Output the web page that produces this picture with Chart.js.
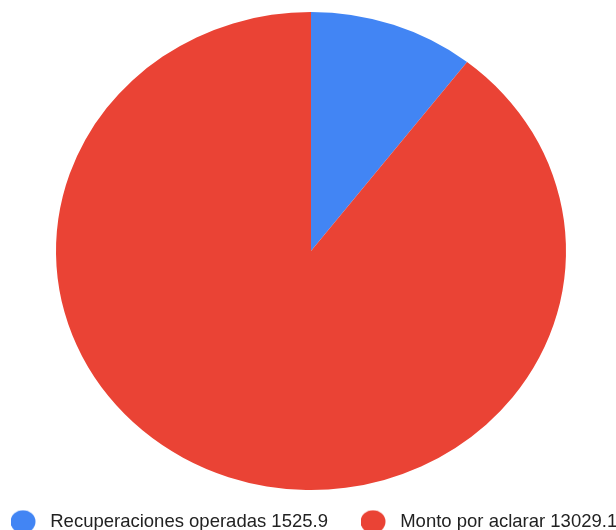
<!DOCTYPE html>
<html>
<head>
<meta charset="utf-8">
<script src="https://cdn.jsdelivr.net/npm/chart.js@4"></script>
<style>
  html, body { margin: 0; padding: 0; background: #fff; overflow: hidden; }
  #wrap { position: absolute; left: -22px; top: 0; width: 720px; height: 541px; }
</style>
</head>
<body>
<div id="wrap"><canvas id="pie"></canvas></div>
<script>
// datos del grafico
const categorias = ['Recuperaciones operadas', 'Monto por aclarar'];
const montos = [1525.9, 13029.1];
const colores = ['#4285F4', '#EA4335'];

const etiquetas = categorias.map((c, i) => c + ' ' + montos[i]);

// circulo de la leyenda con hueco a la derecha
function punto(color) {
    const c = document.createElement('canvas');
    c.width = 30;
    c.height = 24;
    const g = c.getContext('2d');
    g.fillStyle = color;
    g.beginPath();
    g.ellipse(12, 12, 12.5, 11.5, 0, 0, Math.PI * 2);
    g.fill();
    return c;
}
const puntos = colores.map(punto);

// centro del pastel en la pagina (el canvas esta corrido 22px)
const centroX = 311 + 22, centroY = 251;

// el original esta un poco estirado a lo ancho
const estirar = {
    id: 'estirar',
    beforeDatasetsDraw(chart) {
        const arc = chart.getDatasetMeta(0).data[0];
        const ctx = chart.ctx;
        ctx.save();
        ctx.translate(centroX, centroY);
        ctx.scale(255 / 239, 1);
        ctx.translate(-arc.x, -arc.y);
    },
    afterDatasetsDraw(chart) {
        chart.ctx.restore();
    }
};

new Chart(document.getElementById('pie'), {
    type: 'pie',
    data: {
        labels: etiquetas,
        datasets: [{
            data: montos,
            backgroundColor: colores,
            borderWidth: 0,
            radius: 239,
            clip: false
        }]
    },
    options: {
        responsive: true,
        maintainAspectRatio: false,
        animation: false,
        events: [],
        plugins: {
            tooltip: { enabled: false },
            legend: {
                position: 'bottom',
                align: 'start',
                labels: {
                    usePointStyle: true,
                    pointStyleWidth: 30,
                    padding: 33,
                    color: '#222',
                    font: { family: 'Liberation Sans', size: 18.5 },
                    generateLabels(chart) {
                        const items = Chart.overrides.pie.plugins.legend.labels.generateLabels(chart);
                        items.forEach((it, i) => { it.pointStyle = puntos[i]; });
                        return items;
                    }
                }
            }
        }
    },
    plugins: [estirar]
});
</script>
</body>
</html>
